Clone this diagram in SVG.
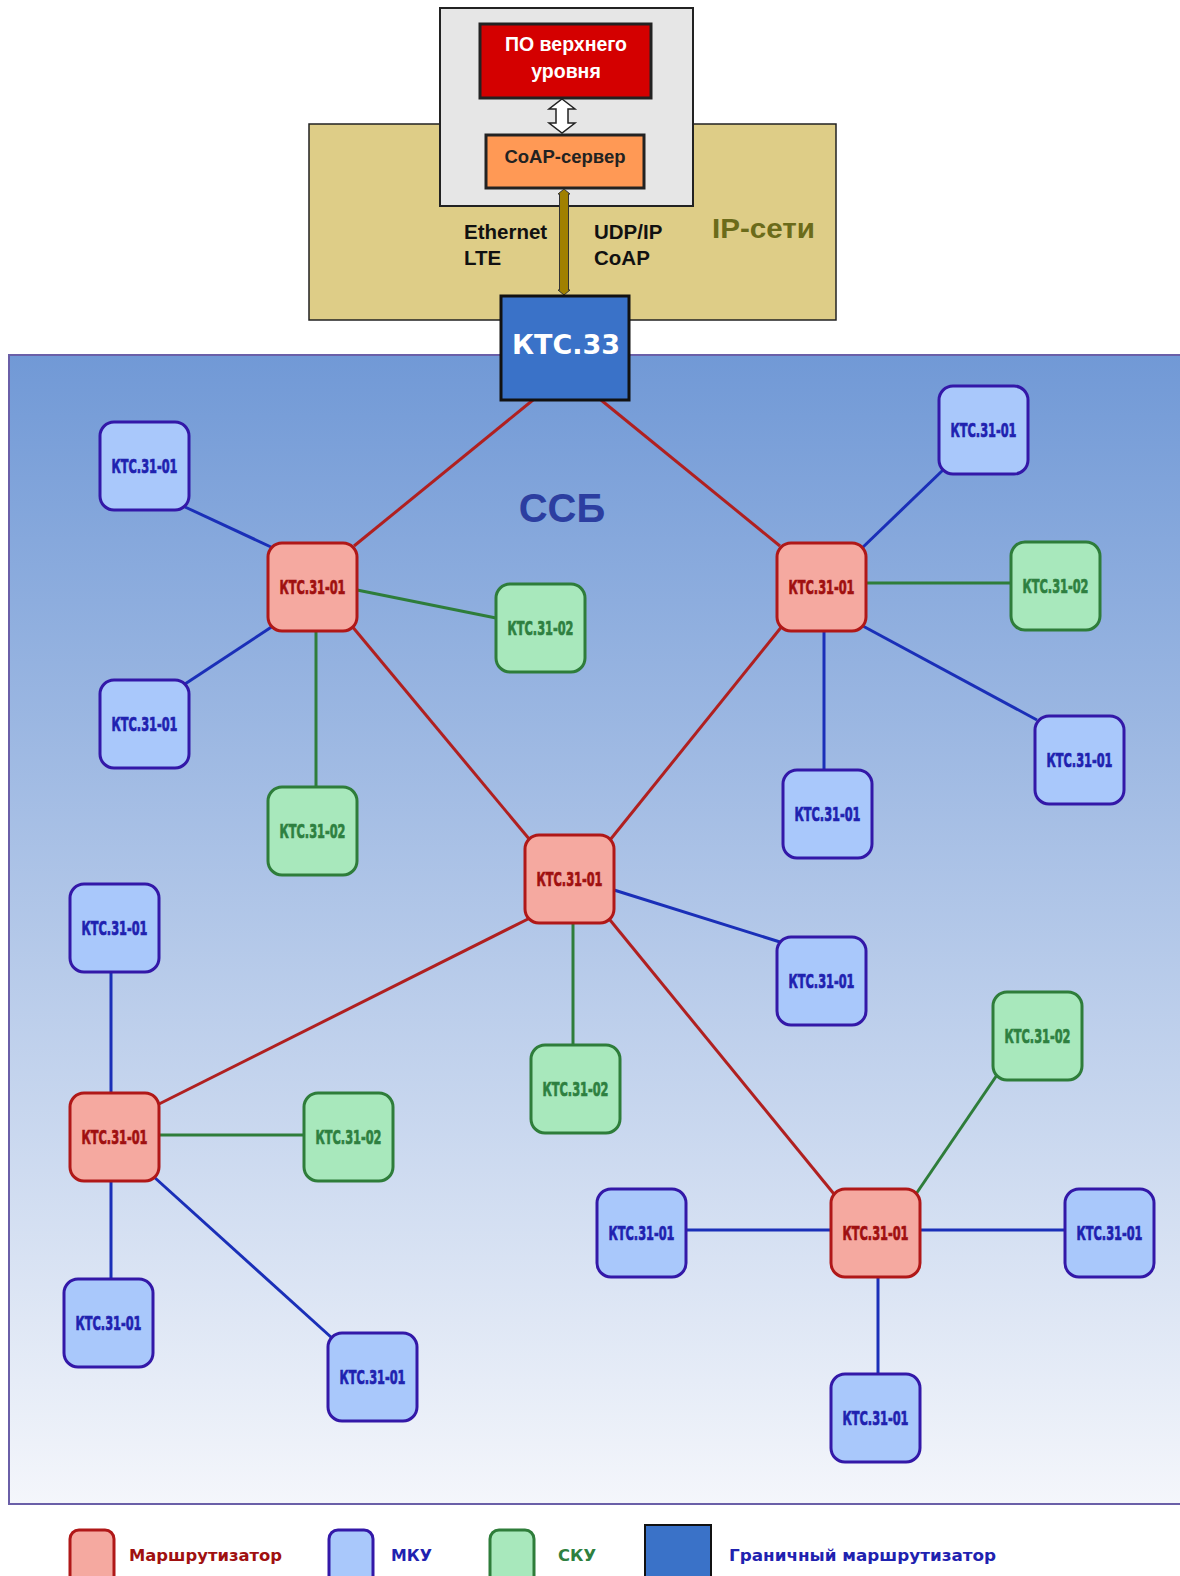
<svg xmlns="http://www.w3.org/2000/svg" width="1180" height="1576" viewBox="0 0 1180 1576">
<defs>
<linearGradient id="bg" x1="0" y1="0" x2="0" y2="1">
<stop offset="0" stop-color="#7199d6"/>
<stop offset="1" stop-color="#f4f6fb"/>
</linearGradient>
<style>
.r rect{fill:#f5a9a0;stroke:#b01818;stroke-width:3}
.r text{fill:#a01010;stroke:#a01010}
.m rect{fill:#a9c8fb;stroke:#3318a8;stroke-width:3}
.m text{fill:#1f22b0;stroke:#1f22b0}
.s rect{fill:#a8e8bc;stroke:#2e7d3a;stroke-width:3}
.s text{fill:#2e8040;stroke:#2e8040}
.n text{font-family:"Liberation Sans Narrow","DejaVu Sans Condensed","Liberation Sans",sans-serif;font-weight:bold;font-size:20px;text-anchor:middle;stroke-width:0.7}
.lr{stroke:#b02020;stroke-width:3}
.lb{stroke:#1a2fb8;stroke-width:3}
.lg{stroke:#2e7d3a;stroke-width:3}
.t{font-family:"Liberation Sans",Arial,sans-serif;font-weight:bold}
.lg2{font-family:"DejaVu Sans",Verdana,sans-serif;font-weight:bold;font-size:15px}
</style>
</defs>
<rect x="0" y="0" width="1180" height="1576" fill="#ffffff"/>
<!-- IP network -->
<g id="ip-net">
<rect x="309" y="124" width="527" height="196" fill="#decd87" stroke="#222" stroke-width="1.5"/>
<text class="t" x="712" y="238" font-size="28" fill="#6b6b1a" textLength="103" lengthAdjust="spacingAndGlyphs">IP-сети</text>
</g>
<g id="server-box">
<rect x="440" y="8" width="253" height="198" fill="#e6e6e6" stroke="#222" stroke-width="2"/>
</g>
<g id="po">
<rect x="480" y="24" width="171" height="74" fill="#d40000" stroke="#222" stroke-width="3"/>
<text class="t" x="566" y="51" font-size="19.5" fill="#fff" text-anchor="middle">ПО верхнего</text>
<text class="t" x="566" y="78" font-size="19.5" fill="#fff" text-anchor="middle">уровня</text>
</g>
<g id="coap">
<rect x="486" y="135" width="158" height="53" fill="#ff9955" stroke="#222" stroke-width="3"/>
<text class="t" x="565" y="163" font-size="18.5" fill="#222" text-anchor="middle">CoAP-сервер</text>
</g>
<g id="proto-labels">
<text class="t" x="464" y="239" font-size="20.5" fill="#111">Ethernet</text>
<text class="t" x="464" y="265" font-size="20.5" fill="#111">LTE</text>
<text class="t" x="594" y="239" font-size="20.5" fill="#111">UDP/IP</text>
<text class="t" x="594" y="265" font-size="20.5" fill="#111">CoAP</text>
</g>
<!-- WSN area -->
<g id="ssb">
<rect x="9" y="355" width="1180" height="1149" fill="url(#bg)" stroke="#6a5fa8" stroke-width="2"/>
<text class="t" x="562" y="522" font-size="40" fill="#2c3ea0" text-anchor="middle">ССБ</text>
</g>
<g id="connectors">
<polygon points="562,99 575,109 568,109 568,123 575,123 562,133 549,123 556,123 556,109 549,109" fill="#fff" stroke="#222" stroke-width="1.5"/>
<polygon points="564,189 570,194 568.5,194 568.5,290 570,290 564,295 558,290 559.5,290 559.5,194 558,194" fill="#a08000" stroke="#333" stroke-width="1"/>
<line class="lr" x1="533" y1="400" x2="354" y2="546"/>
<line class="lr" x1="601" y1="400" x2="780" y2="546"/>
<line class="lr" x1="351" y1="625" x2="530" y2="840"/>
<line class="lr" x1="783" y1="625" x2="610" y2="840"/>
<line class="lr" x1="530" y1="918" x2="159" y2="1104"/>
<line class="lr" x1="610" y1="920" x2="834" y2="1194"/>
<line class="lb" x1="185" y1="507" x2="271" y2="547"/>
<line class="lb" x1="185" y1="684" x2="273" y2="626"/>
<line class="lb" x1="943" y1="470" x2="861" y2="549"/>
<line class="lb" x1="861" y1="625" x2="1037" y2="720"/>
<line class="lb" x1="824" y1="631" x2="824" y2="770"/>
<line class="lb" x1="614" y1="890" x2="780" y2="942"/>
<line class="lb" x1="111" y1="972" x2="111" y2="1093"/>
<line class="lb" x1="111" y1="1182" x2="111" y2="1278"/>
<line class="lb" x1="154" y1="1177" x2="332" y2="1338"/>
<line class="lb" x1="686" y1="1230" x2="830" y2="1230"/>
<line class="lb" x1="920" y1="1230" x2="1065" y2="1230"/>
<line class="lb" x1="878" y1="1277" x2="878" y2="1374"/>
<line class="lg" x1="357" y1="590" x2="496" y2="618"/>
<line class="lg" x1="316" y1="631" x2="316" y2="787"/>
<line class="lg" x1="866" y1="583" x2="1011" y2="583"/>
<line class="lg" x1="573" y1="924" x2="573" y2="1045"/>
<line class="lg" x1="159" y1="1135" x2="304" y2="1135"/>
<line class="lg" x1="916" y1="1194" x2="997" y2="1075"/>
</g>
<g id="ktc33">
<rect x="501" y="296" width="128" height="104" fill="#3a72c8" stroke="#111" stroke-width="3"/>
<text x="566" y="354" font-family="DejaVu Sans,Verdana,sans-serif" font-weight="bold" font-size="27" fill="#fff" text-anchor="middle">КТС.33</text>
</g>
<!-- routers -->
<g id="r1" class="n r"><rect x="268" y="543" width="89" height="88" rx="14"/><text x="312.5" y="594" textLength="66" lengthAdjust="spacingAndGlyphs">КТС.31-01</text></g>
<g id="r2" class="n r"><rect x="777" y="543" width="89" height="88" rx="14"/><text x="821.5" y="594" textLength="66" lengthAdjust="spacingAndGlyphs">КТС.31-01</text></g>
<g id="r3" class="n r"><rect x="525" y="835" width="89" height="88" rx="14"/><text x="569.5" y="886" textLength="66" lengthAdjust="spacingAndGlyphs">КТС.31-01</text></g>
<g id="r4" class="n r"><rect x="70" y="1093" width="89" height="88" rx="14"/><text x="114.5" y="1144" textLength="66" lengthAdjust="spacingAndGlyphs">КТС.31-01</text></g>
<g id="r5" class="n r"><rect x="831" y="1189" width="89" height="88" rx="14"/><text x="875.5" y="1240" textLength="66" lengthAdjust="spacingAndGlyphs">КТС.31-01</text></g>
<!-- MKU -->
<g id="m1" class="n m"><rect x="100" y="422" width="89" height="88" rx="14"/><text x="144.5" y="473" textLength="66" lengthAdjust="spacingAndGlyphs">КТС.31-01</text></g>
<g id="m2" class="n m"><rect x="100" y="680" width="89" height="88" rx="14"/><text x="144.5" y="731" textLength="66" lengthAdjust="spacingAndGlyphs">КТС.31-01</text></g>
<g id="m3" class="n m"><rect x="939" y="386" width="89" height="88" rx="14"/><text x="983.5" y="437" textLength="66" lengthAdjust="spacingAndGlyphs">КТС.31-01</text></g>
<g id="m4" class="n m"><rect x="1035" y="716" width="89" height="88" rx="14"/><text x="1079.5" y="767" textLength="66" lengthAdjust="spacingAndGlyphs">КТС.31-01</text></g>
<g id="m5" class="n m"><rect x="783" y="770" width="89" height="88" rx="14"/><text x="827.5" y="821" textLength="66" lengthAdjust="spacingAndGlyphs">КТС.31-01</text></g>
<g id="m6" class="n m"><rect x="777" y="937" width="89" height="88" rx="14"/><text x="821.5" y="988" textLength="66" lengthAdjust="spacingAndGlyphs">КТС.31-01</text></g>
<g id="m7" class="n m"><rect x="70" y="884" width="89" height="88" rx="14"/><text x="114.5" y="935" textLength="66" lengthAdjust="spacingAndGlyphs">КТС.31-01</text></g>
<g id="m8" class="n m"><rect x="64" y="1279" width="89" height="88" rx="14"/><text x="108.5" y="1330" textLength="66" lengthAdjust="spacingAndGlyphs">КТС.31-01</text></g>
<g id="m9" class="n m"><rect x="328" y="1333" width="89" height="88" rx="14"/><text x="372.5" y="1384" textLength="66" lengthAdjust="spacingAndGlyphs">КТС.31-01</text></g>
<g id="m10" class="n m"><rect x="597" y="1189" width="89" height="88" rx="14"/><text x="641.5" y="1240" textLength="66" lengthAdjust="spacingAndGlyphs">КТС.31-01</text></g>
<g id="m11" class="n m"><rect x="1065" y="1189" width="89" height="88" rx="14"/><text x="1109.5" y="1240" textLength="66" lengthAdjust="spacingAndGlyphs">КТС.31-01</text></g>
<g id="m12" class="n m"><rect x="831" y="1374" width="89" height="88" rx="14"/><text x="875.5" y="1425" textLength="66" lengthAdjust="spacingAndGlyphs">КТС.31-01</text></g>
<!-- SKU -->
<g id="s1" class="n s"><rect x="496" y="584" width="89" height="88" rx="14"/><text x="540.5" y="635" textLength="66" lengthAdjust="spacingAndGlyphs">КТС.31-02</text></g>
<g id="s2" class="n s"><rect x="268" y="787" width="89" height="88" rx="14"/><text x="312.5" y="838" textLength="66" lengthAdjust="spacingAndGlyphs">КТС.31-02</text></g>
<g id="s3" class="n s"><rect x="1011" y="542" width="89" height="88" rx="14"/><text x="1055.5" y="593" textLength="66" lengthAdjust="spacingAndGlyphs">КТС.31-02</text></g>
<g id="s4" class="n s"><rect x="531" y="1045" width="89" height="88" rx="14"/><text x="575.5" y="1096" textLength="66" lengthAdjust="spacingAndGlyphs">КТС.31-02</text></g>
<g id="s5" class="n s"><rect x="304" y="1093" width="89" height="88" rx="14"/><text x="348.5" y="1144" textLength="66" lengthAdjust="spacingAndGlyphs">КТС.31-02</text></g>
<g id="s6" class="n s"><rect x="993" y="992" width="89" height="88" rx="14"/><text x="1037.5" y="1043" textLength="66" lengthAdjust="spacingAndGlyphs">КТС.31-02</text></g>
<!-- legend -->
<g id="legend">
<rect x="70" y="1530" width="44" height="60" rx="9" fill="#f5a9a0" stroke="#b01818" stroke-width="3"/>
<text class="lg2" x="129" y="1561" fill="#a01010" textLength="153" lengthAdjust="spacingAndGlyphs">Маршрутизатор</text>
<rect x="329" y="1530" width="44" height="60" rx="9" fill="#a9c8fb" stroke="#3318a8" stroke-width="3"/>
<text class="lg2" x="391" y="1561" fill="#1f22b0" textLength="41" lengthAdjust="spacingAndGlyphs">МКУ</text>
<rect x="490" y="1530" width="44" height="60" rx="9" fill="#a8e8bc" stroke="#2e7d3a" stroke-width="3"/>
<text class="lg2" x="558" y="1561" fill="#2e8040" textLength="38" lengthAdjust="spacingAndGlyphs">СКУ</text>
<rect x="645" y="1525" width="66" height="60" fill="#3a72c8" stroke="#111" stroke-width="2"/>
<text class="lg2" x="729" y="1561" fill="#1f22b0" textLength="267" lengthAdjust="spacingAndGlyphs">Граничный маршрутизатор</text>
</g>
</svg>
